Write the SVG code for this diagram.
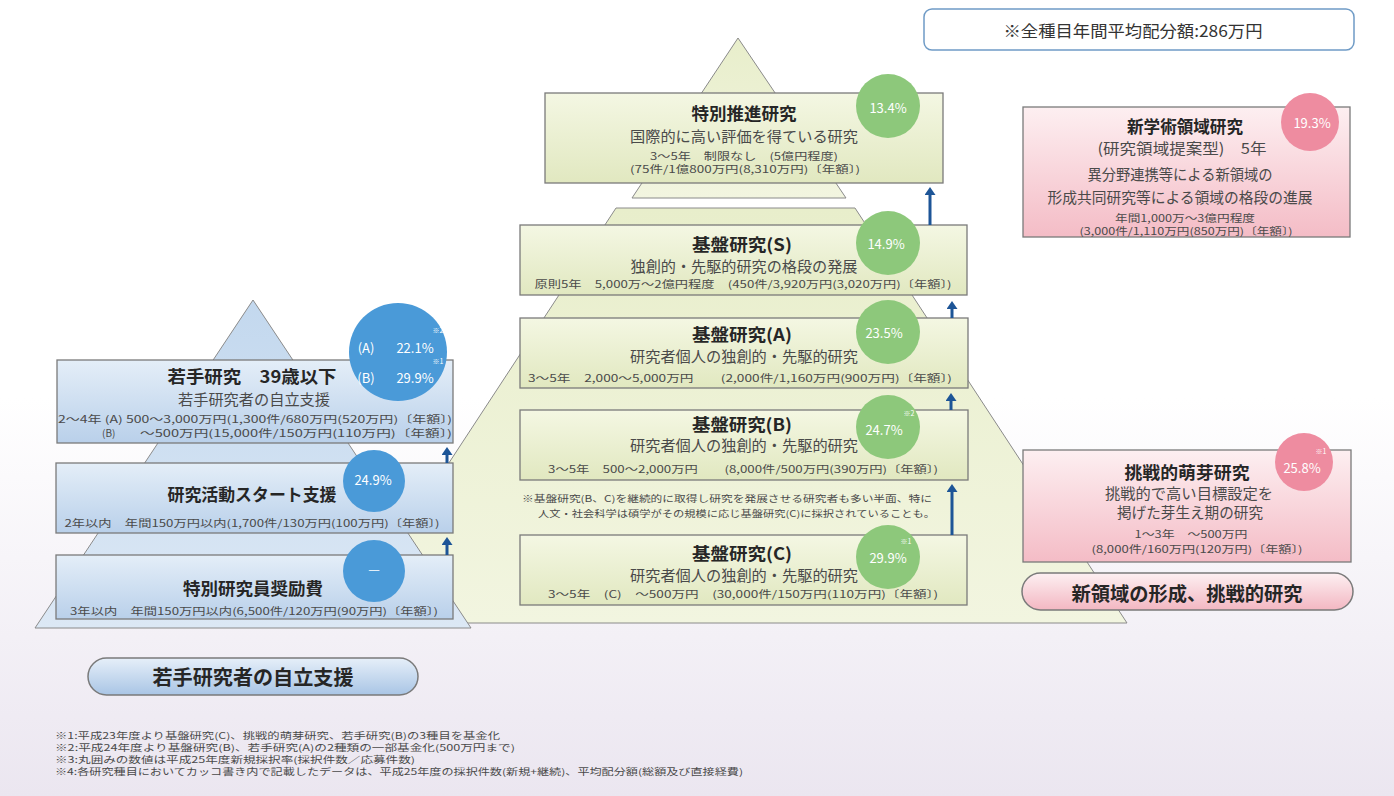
<svg xmlns="http://www.w3.org/2000/svg" width="1394" height="796" viewBox="0 0 1394 796">
<defs>
<linearGradient id="bg" x1="0" y1="0" x2="0" y2="1"><stop offset="0" stop-color="#ffffff"/><stop offset="0.5" stop-color="#ffffff"/><stop offset="1" stop-color="#ebe6f0"/></linearGradient>
<linearGradient id="gbox" x1="0" y1="0" x2="0" y2="1"><stop offset="0" stop-color="#f4f7e3"/><stop offset="1" stop-color="#e1e8c0"/></linearGradient>
<linearGradient id="gpyr" x1="0" y1="0" x2="0" y2="1"><stop offset="0" stop-color="#e8eecb"/><stop offset="1" stop-color="#f2f5e0"/></linearGradient>
<linearGradient id="bbox" x1="0" y1="0" x2="0" y2="1"><stop offset="0" stop-color="#e4eef8"/><stop offset="1" stop-color="#b9d0ea"/></linearGradient>
<linearGradient id="bpyr" x1="0" y1="0" x2="0" y2="1"><stop offset="0" stop-color="#c3d8ee"/><stop offset="1" stop-color="#dce8f5"/></linearGradient>
<linearGradient id="pbox" x1="0" y1="0" x2="0" y2="1"><stop offset="0" stop-color="#fdeff1"/><stop offset="1" stop-color="#f4bcc6"/></linearGradient>
<linearGradient id="bpill" x1="0" y1="0" x2="0" y2="1"><stop offset="0" stop-color="#e6eff9"/><stop offset="1" stop-color="#a9c5e5"/></linearGradient>
<linearGradient id="ppill" x1="0" y1="0" x2="0" y2="1"><stop offset="0" stop-color="#fdf0f2"/><stop offset="1" stop-color="#f3b7c2"/></linearGradient>
<marker id="ah" viewBox="0 0 8 11" refX="3" refY="5.5" markerWidth="8" markerHeight="11" markerUnits="userSpaceOnUse" orient="auto"><path d="M0,0 L8,5.5 L0,11 z" fill="#1d5597"/></marker>
<style>
text { font-family: "Noto Sans CJK JP", "Noto Sans", sans-serif; }
.box { stroke:#7a7a7a; stroke-width:1.3; }
.pyr { stroke:#8a8a8a; stroke-width:1; }
.ttl { font-weight:bold; fill:#262626; font-size:17px; }
.sub { fill:#4a4a4a; font-size:15px; }
.dat { fill:#4a4a4a; font-size:10px; }
.pct { fill:#ffffff; font-size:13px; }
.sup { fill:#ffffff; font-size:7px; }
.fn { fill:#4a4a4a; font-size:9px; }
.gc { fill:#8dc87b; }
.bc { fill:#4a9ad8; }
.pc { fill:#ee8ca0; }
.arr { stroke:#1d5597; stroke-width:3; fill:none; }
</style>
</defs>
<rect x="0" y="0" width="1394" height="796" fill="url(#bg)"/>

<g id="pyramids">
<polygon class="pyr" points="738,38 846,198 632,198" fill="url(#gpyr)"/>
<polygon class="pyr" points="616,208 855,208 1127,623 344,623" fill="url(#gpyr)"/>
<polygon class="pyr" points="253,300 471,628 35,628" fill="url(#bpyr)"/>
</g>

<g id="n-top-note">
<rect x="924" y="9" width="430" height="41" rx="8" fill="#ffffff" stroke="#6f9bc6" stroke-width="1.5"/>
<text x="1133" y="30" text-anchor="middle" dominant-baseline="central" font-size="16" fill="#333" textLength="259" lengthAdjust="spacingAndGlyphs">※全種目年間平均配分額:286万円</text>
</g>

<g id="n-tokusui">
<rect class="box" x="545" y="93" width="398" height="90" fill="url(#gbox)"/>
<circle class="gc" cx="888" cy="106" r="32"/>
<text class="pct" x="888" y="107" text-anchor="middle" dominant-baseline="central">13.4%</text>
<text class="ttl" x="744" y="112" text-anchor="middle" dominant-baseline="central" textLength="105" lengthAdjust="spacingAndGlyphs">特別推進研究</text>
<text class="sub" x="744" y="135" text-anchor="middle" dominant-baseline="central" textLength="228" lengthAdjust="spacingAndGlyphs">国際的に高い評価を得ている研究</text>
<text class="dat" x="744" y="155" text-anchor="middle" dominant-baseline="central" textLength="188" lengthAdjust="spacingAndGlyphs">3～5年　制限なし　(5億円程度)</text>
<text class="dat" x="745" y="168" text-anchor="middle" dominant-baseline="central" textLength="230" lengthAdjust="spacingAndGlyphs">(75件/1億800万円(8,310万円)〔年額〕)</text>
</g>

<g id="n-kibanS">
<rect class="box" x="520" y="225" width="447" height="70" fill="url(#gbox)"/>
<circle class="gc" cx="888" cy="243" r="32"/>
<text class="pct" x="886" y="243" text-anchor="middle" dominant-baseline="central">14.9%</text>
<text class="ttl" x="742" y="243" text-anchor="middle" dominant-baseline="central" textLength="100" lengthAdjust="spacingAndGlyphs">基盤研究(S)</text>
<text class="sub" x="744" y="265" text-anchor="middle" dominant-baseline="central" textLength="227" lengthAdjust="spacingAndGlyphs">独創的・先駆的研究の格段の発展</text>
<text class="dat" x="743" y="283" text-anchor="middle" dominant-baseline="central" textLength="417" lengthAdjust="spacingAndGlyphs">原則5年　5,000万～2億円程度　(450件/3,920万円(3,020万円)〔年額〕)</text>
</g>

<g id="n-kibanA">
<rect class="box" x="520" y="318" width="448" height="70" fill="url(#gbox)"/>
<circle class="gc" cx="888" cy="332" r="32"/>
<text class="pct" x="884" y="332" text-anchor="middle" dominant-baseline="central">23.5%</text>
<text class="ttl" x="742" y="333" text-anchor="middle" dominant-baseline="central" textLength="100" lengthAdjust="spacingAndGlyphs">基盤研究(A)</text>
<text class="sub" x="744" y="355" text-anchor="middle" dominant-baseline="central" textLength="228" lengthAdjust="spacingAndGlyphs">研究者個人の独創的・先駆的研究</text>
<text class="dat" x="740" y="377" text-anchor="middle" dominant-baseline="central" textLength="424" lengthAdjust="spacingAndGlyphs">3～5年　2,000～5,000万円　　(2,000件/1,160万円(900万円)〔年額〕)</text>
</g>

<g id="n-kibanB">
<rect class="box" x="520" y="410" width="448" height="70" fill="url(#gbox)"/>
<circle class="gc" cx="888" cy="427" r="32"/>
<text class="sup" x="909" y="413" text-anchor="middle" dominant-baseline="central">※2</text>
<text class="pct" x="884" y="429" text-anchor="middle" dominant-baseline="central">24.7%</text>
<text class="ttl" x="742" y="423" text-anchor="middle" dominant-baseline="central" textLength="100" lengthAdjust="spacingAndGlyphs">基盤研究(B)</text>
<text class="sub" x="744" y="444" text-anchor="middle" dominant-baseline="central" textLength="228" lengthAdjust="spacingAndGlyphs">研究者個人の独創的・先駆的研究</text>
<text class="dat" x="743" y="468" text-anchor="middle" dominant-baseline="central" textLength="390" lengthAdjust="spacingAndGlyphs">3～5年　500～2,000万円　　(8,000件/500万円(390万円)〔年額〕)</text>
</g>

<g id="n-note">
<text class="fn" x="522" y="498" dominant-baseline="central" font-size="10" textLength="410" lengthAdjust="spacingAndGlyphs">※基盤研究(B、C)を継続的に取得し研究を発展させる研究者も多い半面、特に</text>
<text class="fn" x="538" y="513" dominant-baseline="central" font-size="10" textLength="397" lengthAdjust="spacingAndGlyphs">人文・社会科学は碩学がその規模に応じ基盤研究(C)に採択されていることも。</text>
</g>

<g id="n-kibanC">
<rect class="box" x="520" y="535" width="447" height="70" fill="url(#gbox)"/>
<circle class="gc" cx="888" cy="557" r="32"/>
<text class="sup" x="906" y="541" text-anchor="middle" dominant-baseline="central">※1</text>
<text class="pct" x="888" y="557" text-anchor="middle" dominant-baseline="central">29.9%</text>
<text class="ttl" x="742" y="552" text-anchor="middle" dominant-baseline="central" textLength="100" lengthAdjust="spacingAndGlyphs">基盤研究(C)</text>
<text class="sub" x="744" y="574" text-anchor="middle" dominant-baseline="central" font-size="14" textLength="228" lengthAdjust="spacingAndGlyphs">研究者個人の独創的・先駆的研究</text>
<text class="dat" x="743" y="593" text-anchor="middle" dominant-baseline="central" textLength="390" lengthAdjust="spacingAndGlyphs">3～5年　(C)　～500万円　(30,000件/150万円(110万円)〔年額〕)</text>
</g>

<g id="n-wakate">
<rect class="box" x="57" y="360" width="396" height="83" fill="url(#bbox)"/>
<circle class="bc" cx="398" cy="352" r="49"/>
<text class="sup" x="438" y="330" text-anchor="middle" dominant-baseline="central">※2</text>
<text class="pct" x="366" y="347" text-anchor="middle" dominant-baseline="central">(A)</text>
<text class="pct" x="415" y="347" text-anchor="middle" dominant-baseline="central">22.1%</text>
<text class="sup" x="438" y="361" text-anchor="middle" dominant-baseline="central">※1</text>
<text class="pct" x="366" y="377" text-anchor="middle" dominant-baseline="central">(B)</text>
<text class="pct" x="415" y="377" text-anchor="middle" dominant-baseline="central">29.9%</text>
<text class="ttl" x="252" y="375" text-anchor="middle" dominant-baseline="central" font-size="18" textLength="169" lengthAdjust="spacingAndGlyphs">若手研究　39歳以下</text>
<text class="sub" x="254" y="398" text-anchor="middle" dominant-baseline="central" textLength="152" lengthAdjust="spacingAndGlyphs">若手研究者の自立支援</text>
<text class="dat" x="58" y="418" dominant-baseline="central" textLength="394" lengthAdjust="spacingAndGlyphs">2～4年 (A) 500～3,000万円(1,300件/680万円(520万円)〔年額〕)</text>
<text class="dat" x="102" y="432" dominant-baseline="central" font-size="11">(B)</text>
<text class="dat" x="140" y="432" dominant-baseline="central" textLength="312" lengthAdjust="spacingAndGlyphs">～500万円(15,000件/150万円(110万円)〔年額〕)</text>
</g>

<g id="n-start">
<rect class="box" x="56" y="463" width="397" height="70" fill="url(#bbox)"/>
<circle class="bc" cx="374" cy="481" r="31"/>
<text class="pct" x="373" y="479" text-anchor="middle" dominant-baseline="central">24.9%</text>
<text class="ttl" x="252" y="493" text-anchor="middle" dominant-baseline="central" textLength="169" lengthAdjust="spacingAndGlyphs">研究活動スタート支援</text>
<text class="dat" x="252" y="522" text-anchor="middle" dominant-baseline="central" textLength="375" lengthAdjust="spacingAndGlyphs">2年以内　年間150万円以内(1,700件/130万円(100万円)〔年額〕)</text>
</g>

<g id="n-tokken">
<rect class="box" x="56" y="555" width="397" height="64" fill="url(#bbox)"/>
<circle class="bc" cx="374" cy="571" r="31"/>
<text class="pct" x="374" y="568" text-anchor="middle" dominant-baseline="central" font-size="16">—</text>
<text class="ttl" x="253" y="587" text-anchor="middle" dominant-baseline="central" textLength="140" lengthAdjust="spacingAndGlyphs">特別研究員奨励費</text>
<text class="dat" x="254" y="610" text-anchor="middle" dominant-baseline="central" textLength="368" lengthAdjust="spacingAndGlyphs">3年以内　年間150万円以内(6,500件/120万円(90万円)〔年額〕)</text>
</g>

<g id="n-shingaku">
<rect class="box" x="1023" y="107" width="327" height="130" fill="url(#pbox)"/>
<circle class="pc" cx="1310" cy="122" r="29"/>
<text class="pct" x="1312" y="122" text-anchor="middle" dominant-baseline="central">19.3%</text>
<text class="ttl" x="1185" y="125" text-anchor="middle" dominant-baseline="central" font-size="16" textLength="116" lengthAdjust="spacingAndGlyphs">新学術領域研究</text>
<text class="sub" x="1182" y="147" text-anchor="middle" dominant-baseline="central" font-size="14" textLength="169" lengthAdjust="spacingAndGlyphs">(研究領域提案型)　5年</text>
<text class="sub" x="1180" y="173" text-anchor="middle" dominant-baseline="central" font-size="14" textLength="185" lengthAdjust="spacingAndGlyphs">異分野連携等による新領域の</text>
<text class="sub" x="1180" y="196" text-anchor="middle" dominant-baseline="central" font-size="14" textLength="265" lengthAdjust="spacingAndGlyphs">形成共同研究等による領域の格段の進展</text>
<text class="dat" x="1185" y="217" text-anchor="middle" dominant-baseline="central" font-size="9" textLength="140" lengthAdjust="spacingAndGlyphs">年間1,000万～3億円程度</text>
<text class="dat" x="1186" y="230" text-anchor="middle" dominant-baseline="central" font-size="9" textLength="213" lengthAdjust="spacingAndGlyphs">(3,000件/1,110万円(850万円)〔年額〕)</text>
</g>

<g id="n-chosen">
<rect class="box" x="1023" y="450" width="328" height="112" fill="url(#pbox)"/>
<circle class="pc" cx="1304" cy="462" r="29"/>
<text class="sup" x="1321" y="451" text-anchor="middle" dominant-baseline="central">※1</text>
<text class="pct" x="1302" y="467" text-anchor="middle" dominant-baseline="central">25.8%</text>
<text class="ttl" x="1187" y="471" text-anchor="middle" dominant-baseline="central" font-size="16" textLength="125" lengthAdjust="spacingAndGlyphs">挑戦的萌芽研究</text>
<text class="sub" x="1189" y="492" text-anchor="middle" dominant-baseline="central" font-size="13.5" textLength="168" lengthAdjust="spacingAndGlyphs">挑戦的で高い目標設定を</text>
<text class="sub" x="1190" y="511" text-anchor="middle" dominant-baseline="central" font-size="13.5" textLength="146" lengthAdjust="spacingAndGlyphs">掲げた芽生え期の研究</text>
<text class="dat" x="1191" y="533" text-anchor="middle" dominant-baseline="central" textLength="113" lengthAdjust="spacingAndGlyphs">1～3年　～500万円</text>
<text class="dat" x="1197" y="548" text-anchor="middle" dominant-baseline="central" textLength="211" lengthAdjust="spacingAndGlyphs">(8,000件/160万円(120万円)〔年額〕)</text>
</g>

<g id="n-pill-new">
<rect x="1022" y="573" width="331" height="37" rx="18.5" fill="url(#ppill)" stroke="#7a7a7a" stroke-width="1.5"/>
<text x="1187" y="592" text-anchor="middle" dominant-baseline="central" font-size="19" font-weight="bold" fill="#262626" textLength="231" lengthAdjust="spacingAndGlyphs">新領域の形成、挑戦的研究</text>
</g>

<g id="n-pill-young">
<rect x="88" y="658" width="330" height="37" rx="18.5" fill="url(#bpill)" stroke="#7a7a7a" stroke-width="1.5"/>
<text x="253" y="676" text-anchor="middle" dominant-baseline="central" font-size="20" font-weight="bold" fill="#262626" textLength="201" lengthAdjust="spacingAndGlyphs">若手研究者の自立支援</text>
</g>

<g id="n-footnotes">
<text class="fn" x="55" y="735" dominant-baseline="central" textLength="445" lengthAdjust="spacingAndGlyphs">※1:平成23年度より基盤研究(C)、挑戦的萌芽研究、若手研究(B)の3種目を基金化</text>
<text class="fn" x="55" y="747" dominant-baseline="central" textLength="460" lengthAdjust="spacingAndGlyphs">※2:平成24年度より基盤研究(B)、若手研究(A)の2種類の一部基金化(500万円まで)</text>
<text class="fn" x="55" y="759" dominant-baseline="central" textLength="360" lengthAdjust="spacingAndGlyphs">※3:丸囲みの数値は平成25年度新規採択率(採択件数／応募件数)</text>
<text class="fn" x="55" y="771" dominant-baseline="central" textLength="688" lengthAdjust="spacingAndGlyphs">※4:各研究種目においてカッコ書き内で記載したデータは、平成25年度の採択件数(新規+継続)、平均配分額(総額及び直接経費)</text>
</g>

<g id="connectors">
<line class="arr" x1="930" y1="225" x2="930" y2="192" marker-end="url(#ah)"/>
<line class="arr" x1="952" y1="318" x2="952" y2="306" marker-end="url(#ah)"/>
<line class="arr" x1="951" y1="410" x2="951" y2="398" marker-end="url(#ah)"/>
<line class="arr" x1="952" y1="535" x2="952" y2="489" marker-end="url(#ah)"/>
<line class="arr" x1="447" y1="463" x2="447" y2="452" marker-end="url(#ah)"/>
<line class="arr" x1="447" y1="555" x2="447" y2="542" marker-end="url(#ah)"/>
</g>
</svg>
